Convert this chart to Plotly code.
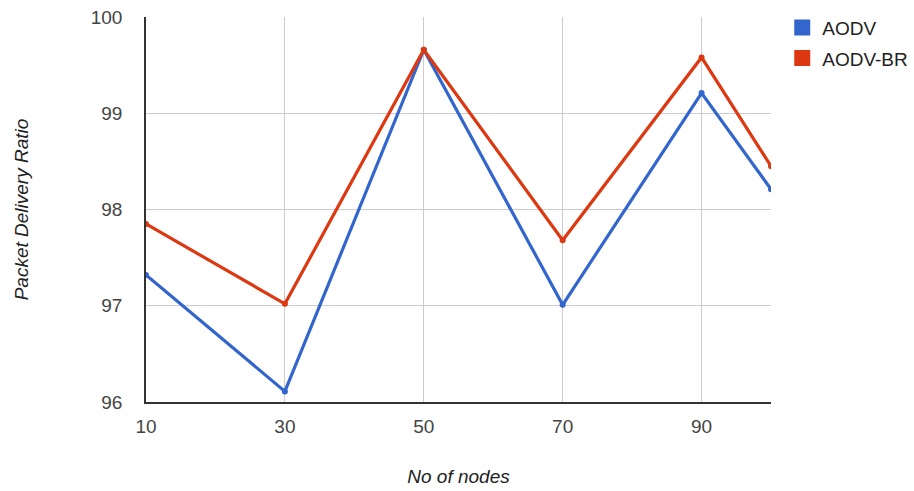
import plotly.graph_objects as go

nodes = [10, 30, 50, 70, 90, 100]
aodv = [97.32, 96.11, 99.66, 97.01, 99.21, 98.21]
aodv_br = [97.85, 97.02, 99.66, 97.68, 99.58, 98.45]
series_names = ["AODV", "AODV-BR"]
colors = ["#3366cc", "#dc3912"]
x_ticks = [10, 30, 50, 70, 90]
y_ticks = [96, 97, 98, 99, 100]

fig = go.Figure()
for name, vals, col in zip(series_names, [aodv, aodv_br], colors):
    fig.add_trace(go.Scatter(
        x=nodes, y=vals, mode="lines+markers", name=name,
        line=dict(color=col, width=3.2), marker=dict(color=col, size=6),
        showlegend=False, hoverinfo="x+y"))
for i, (name, col) in enumerate(zip(series_names, colors)):
    fig.add_trace(go.Scatter(
        x=[None], y=[None], mode="markers", name=name, legendgroup=name,
        marker=dict(color=col, size=20, symbol="square"),
        showlegend=True))

fig.update_layout(
    width=914, height=491,
    margin=dict(l=146, r=143, t=17, b=89, autoexpand=False),
    paper_bgcolor="white", plot_bgcolor="white",
    font=dict(family="Liberation Sans, Arial, sans-serif", size=19, color="#444444"),
    legend=dict(x=1.018, y=1.022, xanchor="left", yanchor="top",
                font=dict(size=19, color="#222222"), tracegroupgap=3,
                bgcolor="rgba(0,0,0,0)"),
    xaxis=dict(range=[10, 100], tickvals=x_ticks, showgrid=True,
               gridcolor="#cccccc", gridwidth=1, zeroline=False,
               showline=True, linecolor="#333333", linewidth=1.5,
               ticks="", ticklabelstandoff=6, automargin=False,
               tickfont=dict(size=19, color="#444444"),
               title=dict(text="<i>No of nodes</i>", standoff=34,
                          font=dict(size=19, color="#222222"))),
    yaxis=dict(range=[96, 100], tickvals=y_ticks, showgrid=True,
               gridcolor="#cccccc", gridwidth=1, zeroline=False,
               showline=True, linecolor="#333333", linewidth=1.5,
               ticks="", ticklabelstandoff=18, automargin=False,
               tickfont=dict(size=19, color="#444444"),
               title=dict(text="<i>Packet Delivery Ratio</i>", standoff=57,
                          font=dict(size=19, color="#222222"))),
)
fig.write_html("out.html")
